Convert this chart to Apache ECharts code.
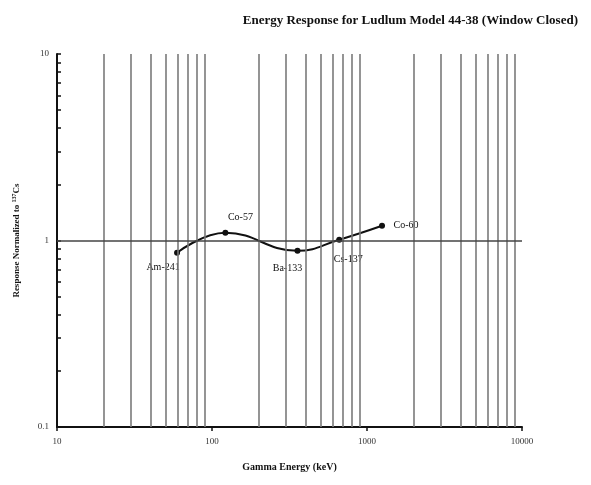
<!DOCTYPE html>
<html>
<head>
<meta charset="utf-8">
<script src="https://cdn.jsdelivr.net/npm/echarts@6/dist/echarts.min.js"></script>
<style>
html,body{margin:0;padding:0;background:#fff;}
#chart{width:591px;height:485px;}
</style>
</head>
<body>
<div id="chart"></div>
<script>
// Data
const isotopes = ['Am-241', 'Co-57', 'Ba-133', 'Cs-137', 'Co-60'];
const energies = [59.5, 122, 356, 662, 1250];
const responses = [0.86, 1.10, 0.88, 1.01, 1.20];
const xTickLabels = [10, 100, 1000, 10000];
const yTickLabels = [0.1, 1, 10];
const xGridValues = [20, 30, 40, 50, 60, 70, 80, 90, 200, 300, 400, 500, 600, 700, 800, 900, 2000, 3000, 4000, 5000, 6000, 7000, 8000, 9000];
const yMinorTicks = [0.1, 0.2, 0.3, 0.4, 0.5, 0.6, 0.7, 0.8, 0.9, 1, 2, 3, 4, 5, 6, 7, 8, 9, 10];
const refLine = 1;

const labelOffsets = [[-14, 15], [15, -15], [-10, 18], [9, 20], [24, 0]];
const FONT = '"Liberation Serif", "Times New Roman", serif';

const chart = echarts.init(document.getElementById('chart'), null, {renderer: 'canvas'});

const seriesData = energies.map((e, i) => ({
  value: [e, responses[i]],
  name: isotopes[i],
  label: {
    show: true,
    position: 'inside',
    offset: labelOffsets[i],
    formatter: isotopes[i],
    color: '#111',
    fontFamily: FONT,
    fontSize: 10,
    align: 'center',
    verticalAlign: 'middle'
  }
}));

const option = {
  backgroundColor: '#fff',
  animation: false,
  title: {
    text: 'Energy Response for Ludlum Model 44-38 (Window Closed)',
    right: 8,
    top: 9,
    textStyle: {fontFamily: FONT, fontSize: 13, fontWeight: 'bold', color: '#111'}
  },
  grid: {left: 57, right: 69, top: 54, bottom: 58},
  xAxis: {
    type: 'log',
    logBase: 10,
    min: 10,
    max: 10000,
    name: 'Gamma Energy (keV)',
    nameLocation: 'middle',
    nameGap: 35,
    nameTextStyle: {fontFamily: FONT, fontSize: 10, fontWeight: 'bold', color: '#111'},
    axisLine: {show: true, lineStyle: {color: '#111', width: 2}},
    axisTick: {show: true, inside: false, length: 4, customValues: xTickLabels, lineStyle: {color: '#111', width: 1.5}},
    axisLabel: {customValues: xTickLabels, fontFamily: FONT, fontSize: 9, color: '#333', margin: 10, formatter: v => String(v)},
    splitLine: {show: false},
    minorTick: {show: false},
    minorSplitLine: {show: false}
  },
  yAxis: {
    type: 'log',
    logBase: 10,
    min: 0.1,
    max: 10,
    name: 'Response Normalized to {sup|137}Cs',
    nameLocation: 'middle',
    nameGap: 35,
    nameRotate: 90,
    nameTextStyle: {
      fontFamily: FONT, fontSize: 9, fontWeight: 'bold', color: '#111',
      rich: {sup: {fontFamily: FONT, fontSize: 6, fontWeight: 'bold', color: '#111', verticalAlign: 'top', padding: [0, 0, 5, 0]}}
    },
    axisLine: {show: true, lineStyle: {color: '#111', width: 2}},
    axisTick: {show: true, inside: true, length: 4, customValues: yMinorTicks, lineStyle: {color: '#111', width: 1.5}},
    axisLabel: {customValues: yTickLabels, fontFamily: FONT, fontSize: 9, color: '#333', margin: 8, formatter: v => String(v)},
    splitLine: {show: false},
    minorTick: {show: false},
    minorSplitLine: {show: false}
  },
  series: [
    {
      type: 'line',
      data: [],
      z: 1,
      silent: true,
      markLine: {
        silent: true,
        symbol: 'none',
        label: {show: false},
        animation: false,
        data: xGridValues.map(v => ({xAxis: v, lineStyle: {color: '#7a7a7a', width: 1.6, type: 'solid'}}))
          .concat([{yAxis: refLine, lineStyle: {color: '#444', width: 1.5, type: 'solid'}}])
      }
    },
    {
      type: 'line',
      z: 3,
      data: seriesData,
      smooth: 0.45,
      symbol: 'circle',
      symbolSize: 6,
      itemStyle: {color: '#111'},
      lineStyle: {color: '#111', width: 2}
    }
  ]
};

chart.setOption(option);
</script>
</body>
</html>
